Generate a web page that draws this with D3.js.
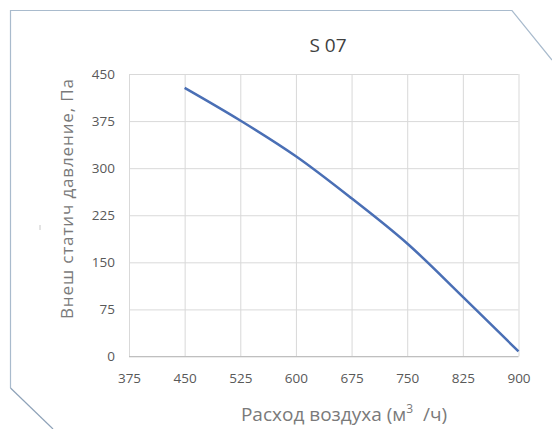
<!DOCTYPE html>
<html><head><meta charset="utf-8">
<script src="https://cdn.jsdelivr.net/npm/d3@7/dist/d3.min.js"></script>
<style>body{margin:0;background:#fff}svg{display:block;font-family:"Open Sans",sans-serif}</style>
</head><body>
<svg id="c" width="552" height="429"></svg>
<script>
const title = "S 07";
const flow = [450, 525, 600, 675, 750, 825, 900];
const pressure = [428, 376, 319, 252, 180, 95, 8];
const xTicks = [375, 450, 525, 600, 675, 750, 825, 900];
const yTicks = [0, 75, 150, 225, 300, 375, 450];
const xTitle = "Расход воздуха (м";
const xTitleSup = "3";
const xTitleEnd = "  /ч)";
const yTitle = "Внеш статич давление, Па";

const svg = d3.select("#c");
const x = d3.scaleLinear().domain([375, 900]).range([129, 518.5]);
const y = d3.scaleLinear().domain([0, 450]).range([356.5, 74]);

// frame
svg.append("path")
  .attr("d", "M10.5,388 L10.5,10.5 L512,10.5 L552,60")
  .attr("fill", "none").attr("stroke", "#a9bbcd").attr("stroke-width", 1.2);
svg.append("path")
  .attr("d", "M10.5,388 L53,429")
  .attr("fill", "none").attr("stroke", "#8ea2b8").attr("stroke-width", 1.2);

// grid
const gx = svg.append("g").attr("transform", `translate(0,${y(0)})`)
  .call(d3.axisBottom(x).tickValues(xTicks).tickSize(-(y(0) - y(450))).tickPadding(17));
gx.select(".domain").remove();
gx.selectAll(".tick line").attr("stroke", "#d9d9d9");
gx.selectAll(".tick text").attr("fill", "#595959").style("font-size", "13.5px").style("font-family", "Open Sans");

const gy = svg.append("g").attr("transform", `translate(${x(375)},0)`)
  .call(d3.axisLeft(y).tickValues(yTicks).tickSize(-(x(900) - x(375))).tickPadding(14));
gy.select(".domain").remove();
gy.selectAll(".tick line").attr("stroke", "#d9d9d9");
gy.selectAll(".tick text").attr("fill", "#595959").style("font-size", "13.5px").style("font-family", "Open Sans");

// bottom axis line
svg.append("line").attr("x1", x(375)).attr("x2", x(900)).attr("y1", y(0)).attr("y2", y(0))
  .attr("stroke", "#bfbfbf");

// series
svg.append("path").datum(flow.map((f, i) => [f, pressure[i]]))
  .attr("fill", "none").attr("stroke", "#4a6fb5").attr("stroke-width", 2.5)
  .attr("d", d3.line().x(d => x(d[0])).y(d => y(d[1])).curve(d3.curveCatmullRom));

// title
svg.append("text").attr("x", 328).attr("y", 52).attr("text-anchor", "middle")
  .attr("fill", "#404040").style("font-size", "19px").text(title);

// x title
const xt = svg.append("text").attr("x", 344).attr("y", 421).attr("text-anchor", "middle")
  .attr("fill", "#7a7a7a").style("font-size", "19px").attr("xml:space", "preserve");
xt.append("tspan").text(xTitle);
xt.append("tspan").attr("dy", -8).style("font-size", "12px").text(xTitleSup);
xt.append("tspan").attr("dy", 8).style("white-space", "pre").text(xTitleEnd);

// y title
svg.append("text").attr("transform", "translate(73,199) rotate(-90)").attr("text-anchor", "middle")
  .attr("fill", "#7a7a7a").style("font-size", "17px")
  .attr("textLength", 240).attr("lengthAdjust", "spacing").text(yTitle);

svg.append("line").attr("x1", 40).attr("x2", 40).attr("y1", 225).attr("y2", 230)
  .attr("stroke", "#c8c8c8");
</script>
</body></html>
